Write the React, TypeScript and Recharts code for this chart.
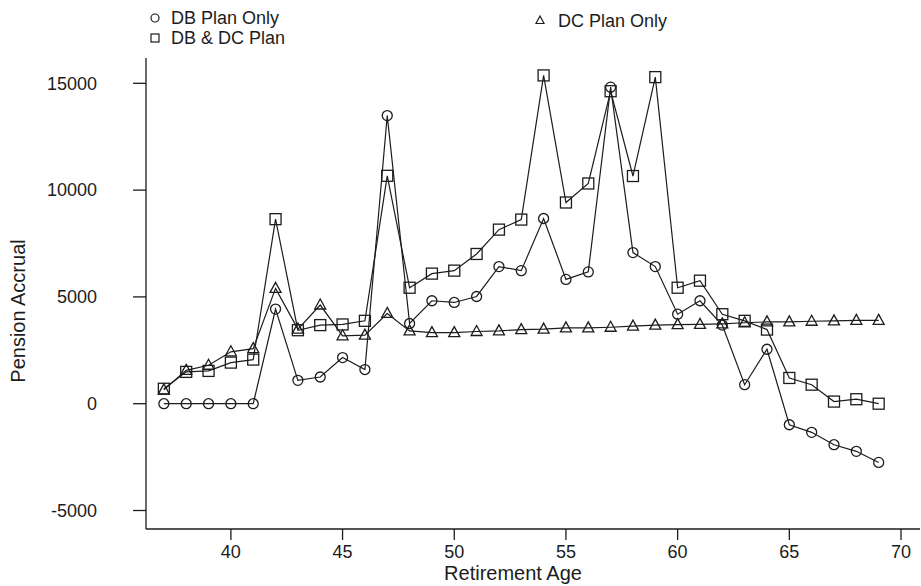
import React from "react";
import { LineChart, Line, XAxis, YAxis } from "recharts";

const ages = [
  37, 38, 39, 40, 41, 42, 43, 44, 45, 46, 47, 48, 49, 50, 51, 52, 53, 54, 55,
  56, 57, 58, 59, 60, 61, 62, 63, 64, 65, 66, 67, 68, 69,
];

const dbOnly = [
  0, 0, 0, 0, 0, 4430, 1095, 1250, 2160, 1600, 13490, 3755, 4820, 4740, 5020,
  6420, 6230, 8670, 5820, 6170, 14820, 7075, 6420, 4190, 4820, 3680, 890, 2550,
  -985, -1340, -1920, -2230, -2750,
];

const dbAndDc = [
  700, 1490, 1535, 1925, 2065, 8640, 3440, 3680, 3710, 3880, 10670, 5430, 6090,
  6230, 7010, 8150, 8620, 15370, 9420, 10310, 14630, 10660, 15290, 5430, 5760,
  4190, 3880, 3470, 1205, 890, 100, 210, 0,
];

const dcOnly = [
  650, 1560, 1800, 2430, 2580, 5400, 3490, 4620, 3180, 3210, 4225, 3410, 3330,
  3330, 3380, 3410, 3470, 3490, 3550, 3550, 3580, 3630, 3680, 3700, 3710, 3740,
  3790, 3830, 3830, 3860, 3880, 3900, 3900,
];

const xTicks = [40, 45, 50, 55, 60, 65, 70];
const yTicks = [-5000, 0, 5000, 10000, 15000];

const data = ages.map((age, i) => ({
  age,
  db: dbOnly[i],
  both: dbAndDc[i],
  dc: dcOnly[i],
}));

const FONT = "'Liberation Sans', Arial, Helvetica, sans-serif";
const INK = "#1c1c1c";

const CircleDot = (props: any) => {
  const { cx, cy, index } = props;
  if (cx == null || cy == null) return null;
  return (
    <circle key={`c-${index}`} cx={cx} cy={cy} r={5} fill="none" stroke={INK} strokeWidth={1.3} />
  );
};

const SquareDot = (props: any) => {
  const { cx, cy, index } = props;
  if (cx == null || cy == null) return null;
  return (
    <rect key={`s-${index}`} x={cx - 5.5} y={cy - 5.5} width={11} height={11} fill="none" stroke={INK} strokeWidth={1.3} />
  );
};

const TriangleDot = (props: any) => {
  const { cx, cy, index } = props;
  if (cx == null || cy == null) return null;
  const pts = `${cx},${cy - 6} ${cx - 5.5},${cy + 4} ${cx + 5.5},${cy + 4}`;
  return <polygon key={`t-${index}`} points={pts} fill="none" stroke={INK} strokeWidth={1.3} />;
};

const tickStyle = { fill: INK, fontSize: 18, fontFamily: FONT };

export default function App() {
  return (
    <div style={{ position: "relative", width: 921, height: 586, background: "#fff" }}>
      <style>{`body{margin:0;background:#fff}`}</style>
      <LineChart
        width={921}
        height={586}
        data={data}
        margin={{ top: 58, right: 1, bottom: 0, left: 86 }}
      >
        <XAxis
          dataKey="age"
          type="number"
          domain={[36.2, 70.85]}
          ticks={xTicks}
          interval={0}
          height={57}
          tickSize={11}
          tickMargin={5}
          tick={tickStyle}
          axisLine={{ stroke: INK, strokeWidth: 1.3 }}
          tickLine={{ stroke: INK, strokeWidth: 1.3 }}
          label={({ viewBox }: any) => (
            <text
              x={viewBox.x + viewBox.width / 2 - 20}
              y={580}
              textAnchor="middle"
              fontSize={20}
              fontFamily={FONT}
              fill={INK}
            >
              Retirement Age
            </text>
          )}
        />
        <YAxis
          type="number"
          domain={[-5866, 16185]}
          ticks={yTicks}
          interval={0}
          width={60}
          tickSize={13}
          tickMargin={36}
          tick={tickStyle}
          axisLine={{ stroke: INK, strokeWidth: 1.3 }}
          tickLine={{ stroke: INK, strokeWidth: 1.3 }}
          label={() => (
            <text
              x={25}
              y={311}
              transform="rotate(-90, 25, 311)"
              textAnchor="middle"
              fontSize={20}
              fontFamily={FONT}
              fill={INK}
            >
              Pension Accrual
            </text>
          )}
        />
        <Line
          type="linear"
          dataKey="dc"
          stroke={INK}
          strokeWidth={1.2}
          dot={TriangleDot}
          activeDot={false}
          isAnimationActive={false}
        />
        <Line
          type="linear"
          dataKey="both"
          stroke={INK}
          strokeWidth={1.2}
          dot={SquareDot}
          activeDot={false}
          isAnimationActive={false}
        />
        <Line
          type="linear"
          dataKey="db"
          stroke={INK}
          strokeWidth={1.2}
          dot={CircleDot}
          activeDot={false}
          isAnimationActive={false}
        />
      </LineChart>
      <svg
        width={921}
        height={50}
        style={{ position: "absolute", left: 0, top: 0, pointerEvents: "none" }}
      >
        <circle cx={155} cy={18} r={4} fill="none" stroke={INK} strokeWidth={1.2} />
        <text x={171} y={24} fontSize={18} fontFamily={FONT} fill={INK}>
          DB Plan Only
        </text>
        <rect x={151} y={34} width={8} height={8} fill="none" stroke={INK} strokeWidth={1.2} />
        <text x={171} y={44} fontSize={18} fontFamily={FONT} fill={INK}>
          DB &amp; DC Plan
        </text>
        <polygon points="540,16 536,23.5 544,23.5" fill="none" stroke={INK} strokeWidth={1.2} />
        <text x={558} y={27} fontSize={18} fontFamily={FONT} fill={INK}>
          DC Plan Only
        </text>
      </svg>
    </div>
  );
}
